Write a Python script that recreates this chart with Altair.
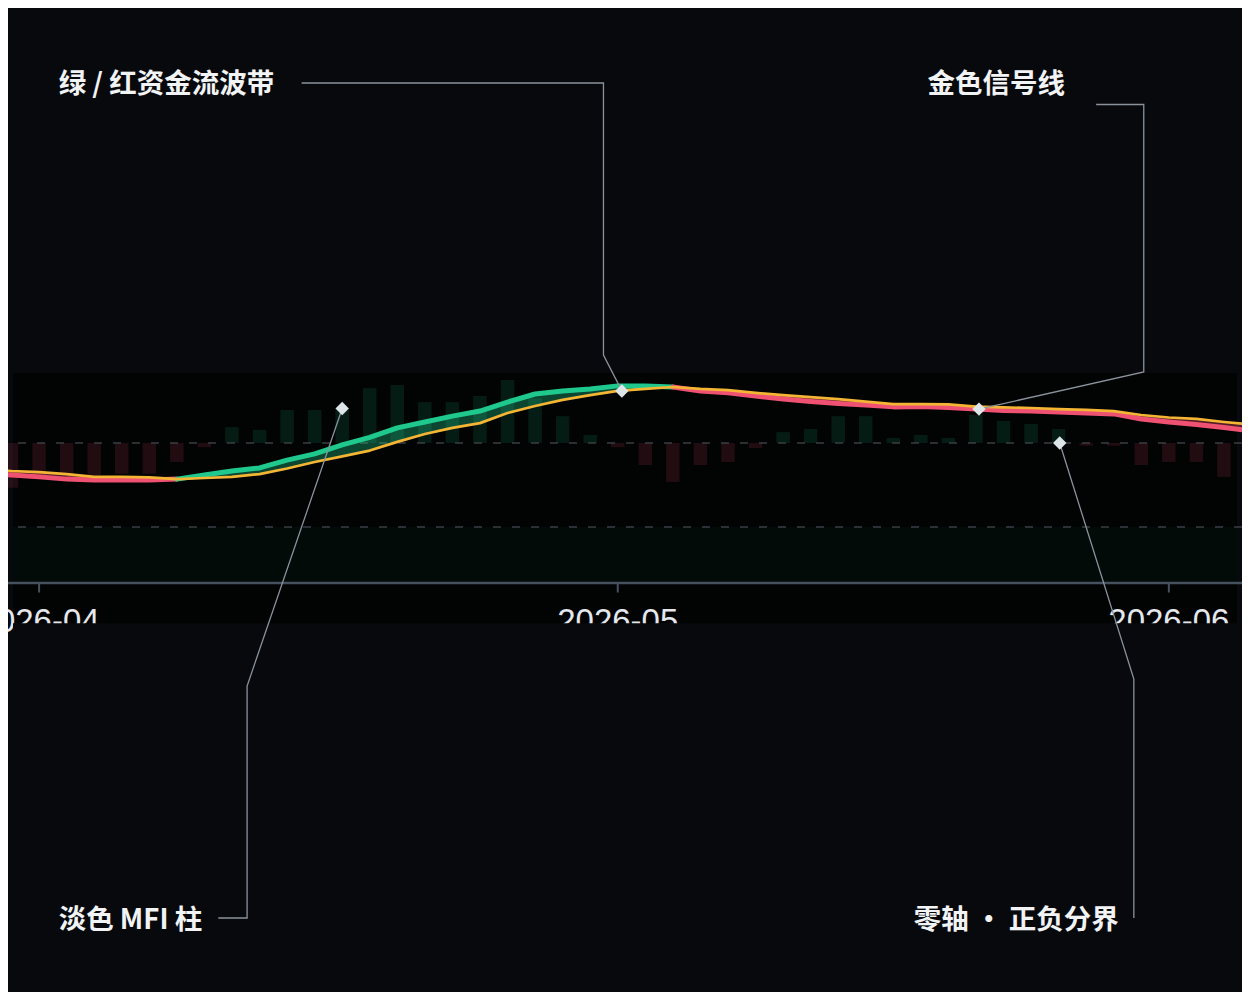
import altair as alt
import pandas as pd

# ------------------------------------------------------------------
# Data
# ------------------------------------------------------------------
dates = [
    "2026-03-30", "2026-03-31",
    "2026-04-01", "2026-04-02", "2026-04-06", "2026-04-07", "2026-04-08", "2026-04-09", "2026-04-10",
    "2026-04-13", "2026-04-14", "2026-04-15", "2026-04-16", "2026-04-17",
    "2026-04-20", "2026-04-21", "2026-04-22", "2026-04-23", "2026-04-24",
    "2026-04-27", "2026-04-28", "2026-04-29", "2026-04-30",
    "2026-05-01", "2026-05-04", "2026-05-05", "2026-05-06", "2026-05-07", "2026-05-08",
    "2026-05-11", "2026-05-12", "2026-05-13", "2026-05-14", "2026-05-15",
    "2026-05-18", "2026-05-19", "2026-05-20", "2026-05-21", "2026-05-22",
    "2026-05-26", "2026-05-27", "2026-05-28", "2026-05-29",
    "2026-06-01", "2026-06-02", "2026-06-03", "2026-06-04",
]

mfi_hist = [
    -14.0, -16.0,
    -11.5, -11.0, -11.5, -11.0, -11.0, -6.8, -1.5,
    5.7, 4.6, 11.8, 11.8, 12.3,
    19.6, 20.7, 14.6, 14.6, 16.8,
    22.5, 16.0, 9.6, 2.9,
    -1.5, -7.9, -13.9, -7.9, -6.8, -1.8,
    3.9, 5.0, 9.6, 9.6, 1.8,
    2.9, 1.8, 10.0, 7.9, 6.8,
    5.0, -1.0, -1.0, -7.9,
    -6.8, -6.8, -12.1, -17.9,
]

money_flow = [
    -10.7, -11.4,
    -12.1, -12.9, -13.2, -13.2, -13.2, -12.9, -11.4,
    -10.0, -8.9, -6.1, -3.9, -0.7,
    2.0, 5.4, 7.5, 9.6, 11.4,
    14.6, 17.5, 18.6, 19.3,
    20.4, 20.4, 20.0, 18.6, 17.9, 16.8,
    15.7, 14.8, 14.1, 13.6, 12.9,
    13.0, 12.7, 12.1, 11.6, 11.4,
    11.1, 10.7, 10.4, 8.6,
    7.5, 6.6, 5.5, 4.3,
]

signal = [
    -9.3, -10.0,
    -10.4, -11.1, -12.1, -12.1, -12.3, -12.9, -12.5,
    -12.1, -11.1, -9.1, -6.8, -4.8,
    -2.7, 0.4, 3.2, 5.4, 7.1,
    10.7, 13.2, 15.4, 17.1,
    18.6, 19.3, 20.0, 19.3, 18.9, 17.9,
    17.1, 16.4, 15.7, 14.8, 13.9,
    13.9, 13.8, 13.0, 12.7, 12.5,
    12.1, 11.8, 11.4, 10.0,
    9.1, 8.6, 7.5, 6.6,
]

month_labels = ["2026-04", "2026-05", "2026-06"]
month_first = ["2026-04-01", "2026-05-01", "2026-06-01"]

zero_level = 0.0
lower_level = -30.0
floor_level = -50.0

# annotations: label text, anchor date, anchor series
ann_texts = ["绿 / 红资金流波带", "金色信号线", "淡色 MFI 柱", "零轴 · 正负分界"]
ann_dates = ["2026-05-01", "2026-05-20", "2026-04-17", "2026-05-26"]
ann_series = ["signal", "flow", "hist", "zero"]

# ------------------------------------------------------------------
# Layout / style
# ------------------------------------------------------------------
W, H = 1234, 984
PAGE = 8
STEP_PX = 27.78      # px per trading day
APR1_PX = 34.3       # page x of 2026-04-01
ZERO_PX = 443.0      # page y of the zero line
PX_PER_UNIT = 2.8

APR1_POS = dates.index("2026-04-01")


def px2p(X):
    return APR1_POS + (X - APR1_PX) / STEP_PX


def px2v(Y):
    return (ZERO_PX - Y) / PX_PER_UNIT


P_MIN, P_MAX = px2p(PAGE), px2p(PAGE + W)
V_MAX, V_MIN = px2v(PAGE), px2v(PAGE + H)

xs = alt.Scale(domain=[P_MIN, P_MAX], nice=False, zero=False)
ys = alt.Scale(domain=[V_MIN, V_MAX], nice=False, zero=False)

BG = "#08090c"
BAND = "#020303"
ZONE = "#030b09"
GREEN = "#1fc98e"
RED = "#ef5172"
GOLD = "#f4b534"
GRID = "#3a3f45"
AXIS = "#465160"
LEADER = "#8a939c"
MARKER = "#dee5e9"
TEXT = "#f1f3f5"
CJK = "Noto Sans CJK SC"

BAND_TOP_PX, BAND_BOT_PX = 373.0, 623.3

# ------------------------------------------------------------------
# Tables
# ------------------------------------------------------------------
n = len(dates)
base = pd.DataFrame({
    "pos": range(n),
    "date": dates,
    "hist": mfi_hist,
    "flow": money_flow,
    "signal": signal,
})
base["zero"] = 0.0
base["hcol"] = [GREEN if v >= 0 else RED for v in mfi_hist]

# runs of the flow line, coloured by its side of the signal line
diff = [f - s for f, s in zip(money_flow, signal)]
rows, run, prev = [], 0, None
for k in range(n - 1):
    sgn = 1 if diff[k] + diff[k + 1] > 0 else -1
    if prev is not None and sgn != prev:
        run += 1
    prev = sgn
    for j in (k, k + 1):
        rows.append({"run": run, "pos": j, "flow": money_flow[j], "signal": signal[j],
                     "col": GREEN if sgn > 0 else RED})
runs = pd.DataFrame(rows).drop_duplicates(subset=["run", "pos"])

ticks = pd.DataFrame({
    "pos": [dates.index(d) for d in month_first],
    "label": month_labels,
})
ticks["y"] = floor_level
ticks["y2"] = floor_level - 9.5 / PX_PER_UNIT

levels = pd.DataFrame({"v": [zero_level, lower_level]})
axis_df = pd.DataFrame({"v": [floor_level]})

band_df = pd.DataFrame({"x": [P_MIN], "x2": [P_MAX], "y": [px2v(BAND_TOP_PX)], "y2": [px2v(BAND_BOT_PX)]})
zone_df = pd.DataFrame({"x": [P_MIN], "x2": [P_MAX], "y": [lower_level], "y2": [floor_level]})
cover_df = pd.DataFrame({"x": [P_MIN], "x2": [P_MAX], "y": [px2v(BAND_BOT_PX)], "y2": [V_MIN]})

# anchors
shift = {"signal": 0.15, "flow": 0.11, "hist": 0.0, "zero": 0.04}
anchors = []
for t, d, s in zip(ann_texts, ann_dates, ann_series):
    p = dates.index(d)
    anchors.append({"text": t, "pos": p + shift[s], "v": float(base.loc[p, s])})
anch_df = pd.DataFrame(anchors)

# leader line elbows (page px) and label positions (page px)
elbows = [
    [(299, 83), (603.3, 83), (603.3, 355)],
    [(1100, 104.5), (1148, 104.5), (1148, 372)],
    [(215, 918), (244, 918), (244, 686)],
    [(1138, 918), (1138, 679)],
]
label_px = [(54, 85), (930, 85), (54, 920.5), (916, 921)]

lrows = []
for li, (pts, a) in enumerate(zip(elbows, anchors)):
    k = 0
    for (X, Y) in pts:
        lrows.append({"line": li, "order": k, "p": px2p(X), "v": px2v(Y)})
        k += 1
    lrows.append({"line": li, "order": k, "p": a["pos"], "v": a["v"]})
leaders = pd.DataFrame(lrows)

labels = pd.DataFrame({
    "text": ann_texts,
    "p": [px2p(X) for X, _ in label_px],
    "v": [px2v(Y) for _, Y in label_px],
})

# ------------------------------------------------------------------
# Layers
# ------------------------------------------------------------------
X = lambda f: alt.X(f, type="quantitative", scale=xs, axis=None)
Y = lambda f: alt.Y(f, type="quantitative", scale=ys, axis=None)


def rect(df, color):
    return alt.Chart(df).mark_rect(color=color).encode(
        x=X("x"), x2="x2", y=Y("y"), y2="y2")


band = rect(band_df, BAND)
zone = rect(zone_df, ZONE)

bars = alt.Chart(base).mark_bar(size=13.5, opacity=0.13).encode(
    x=X("pos"), y=Y("hist"), y2="zero",
    color=alt.Color("hcol:N", scale=None),
)

level_rules = alt.Chart(levels).mark_rule(
    color=GRID, strokeWidth=1.5, strokeDash=[8, 11]
).encode(y=Y("v"))

fill = alt.Chart(runs).mark_area(opacity=0.34).encode(
    x=X("pos"), y=Y("flow"), y2="signal",
    color=alt.Color("col:N", scale=None), detail="run:N",
)

flow_line = alt.Chart(runs).mark_line(
    strokeWidth=5, strokeCap="round", strokeJoin="round"
).encode(
    x=X("pos"), y=Y("flow"),
    color=alt.Color("col:N", scale=None), detail="run:N",
)

signal_line = alt.Chart(base).mark_line(
    color=GOLD, strokeWidth=2.7, strokeJoin="round"
).encode(x=X("pos"), y=Y("signal"))

axis_line = alt.Chart(axis_df).mark_rule(color=AXIS, strokeWidth=2.5).encode(y=Y("v"))

tick_marks = alt.Chart(ticks).mark_rule(color=AXIS, strokeWidth=2).encode(
    x=X("pos"), y=Y("y"), y2="y2")

tick_labels = alt.Chart(ticks).mark_text(
    font="Liberation Sans", fontSize=33, color="#e4e7eb",
    align="center", baseline="alphabetic", dy=49,
).encode(x=X("pos"), y=Y("y"), text="label:N")

cover = rect(cover_df, BG)

leader_lines = alt.Chart(leaders).mark_line(
    color=LEADER, strokeWidth=1.3, strokeJoin="miter"
).encode(x=X("p"), y=Y("v"), detail="line:N", order="order:Q")

markers = alt.Chart(anch_df).mark_point(
    shape="diamond", filled=True, size=180, color=MARKER, opacity=1
).encode(x=X("pos"), y=Y("v"))

label_text = alt.Chart(labels).mark_text(
    font=CJK, fontSize=27.5, fontWeight="bold", color=TEXT,
    align="left", baseline="middle",
).encode(x=X("p"), y=Y("v"), text="text:N")

chart = alt.layer(
    band, zone, bars, level_rules, fill, flow_line, signal_line,
    axis_line, tick_marks, tick_labels, cover,
    leader_lines, markers, label_text,
).properties(
    width=W, height=H, padding=0, background=BG,
    autosize=alt.AutoSizeParams(type="none"),
).configure_view(strokeWidth=0)

chart.save("out.html", embed_options={"renderer": "svg", "actions": False})
